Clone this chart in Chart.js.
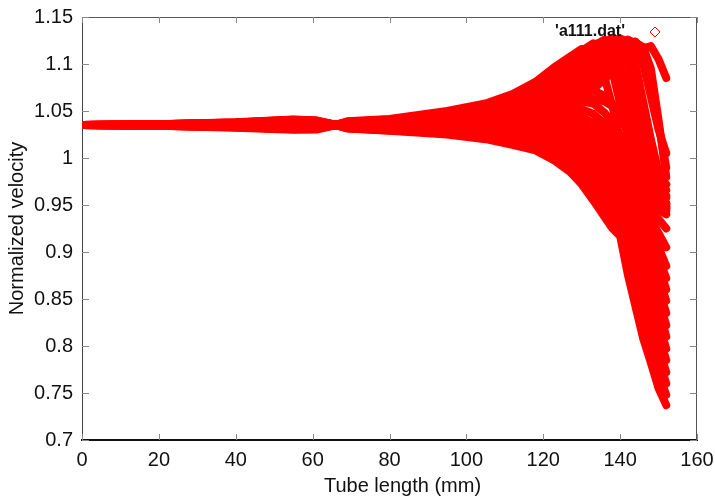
<!DOCTYPE html>
<html>
<head>
<meta charset="utf-8">
<script src="https://cdn.jsdelivr.net/npm/chart.js@4.4.0/dist/chart.umd.min.js"></script>
<style>
  html, body { margin: 0; padding: 0; background: #fff; }
  #wrap { width: 715px; height: 498px; }
</style>
</head>
<body>
<div id="wrap"><canvas id="plot"></canvas></div>
<script>
const xKnots = [0, 20, 40, 55, 61, 65, 69, 80, 95, 105, 112, 118, 123, 127, 130, 133, 136, 138, 140, 142, 144, 146, 148, 150, 152];

const xTicks = [0, 20, 40, 60, 80, 100, 120, 140, 160];
const yTicks = [0.7, 0.75, 0.8, 0.85, 0.9, 0.95, 1, 1.05, 1.1, 1.15];

// profiles with a hump near the tube end
const h1 = [1.0352, 1.0342, 1.0322, 1.0300, 1.0302, 1.0340, 1.0390, 1.0415, 1.050, 1.058, 1.068, 1.081, 1.097, 1.108, 1.116, 1.113, 1.085, 1.055, 1.020, 0.990, 0.967, 0.953, 0.947, 0.944, 0.943];
const h2 = [1.0352, 1.0343, 1.0326, 1.0306, 1.0308, 1.0343, 1.0385, 1.0410, 1.048, 1.056, 1.065, 1.077, 1.092, 1.104, 1.114, 1.122, 1.115, 1.092, 1.058, 1.022, 0.992, 0.967, 0.953, 0.947, 0.945];
const h2b = [1.0352, 1.0343, 1.0328, 1.0309, 1.0311, 1.0345, 1.0382, 1.0408, 1.047, 1.055, 1.063, 1.075, 1.089, 1.101, 1.111, 1.121, 1.123, 1.108, 1.080, 1.045, 1.010, 0.980, 0.960, 0.950, 0.946];
const h3 = [1.0352, 1.0344, 1.0330, 1.0312, 1.0314, 1.0346, 1.0380, 1.0405, 1.046, 1.053, 1.061, 1.072, 1.085, 1.097, 1.108, 1.119, 1.126, 1.121, 1.100, 1.065, 1.027, 0.992, 0.967, 0.953, 0.948];
const h4 = [1.0352, 1.0345, 1.0334, 1.0318, 1.0320, 1.0349, 1.0375, 1.0400, 1.044, 1.050, 1.057, 1.066, 1.078, 1.089, 1.100, 1.112, 1.123, 1.128, 1.124, 1.100, 1.062, 1.022, 0.987, 0.962, 0.951];
const h4b = [1.0352, 1.0346, 1.0336, 1.0321, 1.0323, 1.0350, 1.0372, 1.0398, 1.043, 1.048, 1.055, 1.063, 1.074, 1.085, 1.096, 1.108, 1.119, 1.125, 1.127, 1.114, 1.082, 1.042, 1.003, 0.972, 0.958];
const h5 = [1.0352, 1.0346, 1.0337, 1.0324, 1.0326, 1.0352, 1.0370, 1.0395, 1.043, 1.047, 1.053, 1.060, 1.070, 1.080, 1.091, 1.103, 1.115, 1.122, 1.127, 1.124, 1.100, 1.060, 1.020, 0.985, 0.966];
const h6 = [1.0352, 1.0347, 1.0340, 1.0330, 1.0332, 1.0355, 1.0365, 1.0390, 1.041, 1.044, 1.049, 1.055, 1.063, 1.071, 1.081, 1.093, 1.105, 1.113, 1.120, 1.126, 1.122, 1.100, 1.065, 1.030, 1.005];
const h6b = [1.0352, 1.0348, 1.0342, 1.0333, 1.0335, 1.0356, 1.0362, 1.0385, 1.0405, 1.043, 1.047, 1.052, 1.060, 1.067, 1.076, 1.088, 1.100, 1.108, 1.116, 1.122, 1.124, 1.112, 1.082, 1.036, 0.990];
const h7 = [1.0352, 1.0348, 1.0343, 1.0336, 1.0338, 1.0358, 1.0360, 1.0380, 1.040, 1.042, 1.046, 1.050, 1.057, 1.064, 1.072, 1.083, 1.095, 1.103, 1.111, 1.118, 1.123, 1.118, 1.095, 1.040, 0.980];
const h8 = [1.0352, 1.0349, 1.0346, 1.0342, 1.0344, 1.0361, 1.0356, 1.0370, 1.039, 1.040, 1.043, 1.046, 1.051, 1.057, 1.064, 1.073, 1.084, 1.092, 1.100, 1.107, 1.113, 1.117, 1.119, 1.105, 1.085];

// profiles that drop off at the tube end
const l1 = [1.0352, 1.0360, 1.0380, 1.0410, 1.0400, 1.0364, 1.0315, 1.0290, 1.025, 1.020, 1.014, 1.008, 0.997, 0.985, 0.972, 0.955, 0.937, 0.925, 0.917, 0.876, 0.842, 0.808, 0.782, 0.755, 0.737];
const m1 = [1.0352, 1.0359, 1.0379, 1.0408, 1.0398, 1.0363, 1.0316, 1.0292, 1.026, 1.021, 1.016, 1.010, 1.000, 0.988, 0.976, 0.960, 0.942, 0.934, 0.926, 0.892, 0.858, 0.825, 0.795, 0.770, 0.748];
const l2 = [1.0352, 1.0359, 1.0377, 1.0405, 1.0395, 1.0362, 1.0318, 1.0295, 1.027, 1.023, 1.018, 1.012, 1.003, 0.992, 0.980, 0.964, 0.948, 0.943, 0.935, 0.905, 0.872, 0.840, 0.810, 0.785, 0.760];
const m2 = [1.0352, 1.0358, 1.0376, 1.0402, 1.0392, 1.0361, 1.0320, 1.0298, 1.028, 1.025, 1.020, 1.015, 1.006, 0.996, 0.984, 0.969, 0.953, 0.947, 0.939, 0.915, 0.886, 0.855, 0.825, 0.798, 0.772];
const l3 = [1.0352, 1.0358, 1.0374, 1.0400, 1.0390, 1.0360, 1.0321, 1.0300, 1.029, 1.026, 1.022, 1.017, 1.009, 0.999, 0.988, 0.973, 0.958, 0.950, 0.942, 0.925, 0.900, 0.870, 0.840, 0.812, 0.785];
const m3 = [1.0352, 1.0357, 1.0372, 1.0397, 1.0387, 1.0359, 1.0323, 1.0305, 1.030, 1.028, 1.024, 1.020, 1.012, 1.003, 0.992, 0.978, 0.963, 0.954, 0.946, 0.931, 0.909, 0.882, 0.854, 0.826, 0.797];
const l4 = [1.0352, 1.0357, 1.0371, 1.0395, 1.0385, 1.0358, 1.0325, 1.0310, 1.031, 1.029, 1.026, 1.022, 1.015, 1.006, 0.996, 0.982, 0.968, 0.958, 0.950, 0.937, 0.918, 0.895, 0.868, 0.840, 0.810];
const m4 = [1.0352, 1.0356, 1.0370, 1.0392, 1.0382, 1.0357, 1.0328, 1.0315, 1.032, 1.031, 1.028, 1.025, 1.018, 1.010, 1.000, 0.987, 0.973, 0.963, 0.954, 0.942, 0.925, 0.904, 0.879, 0.851, 0.822];
const l5 = [1.0352, 1.0356, 1.0368, 1.0390, 1.0380, 1.0356, 1.0330, 1.0320, 1.033, 1.032, 1.030, 1.027, 1.021, 1.013, 1.004, 0.991, 0.977, 0.967, 0.957, 0.946, 0.932, 0.913, 0.890, 0.862, 0.835];
const m5 = [1.0352, 1.0355, 1.0366, 1.0388, 1.0378, 1.0355, 1.0332, 1.0325, 1.034, 1.034, 1.032, 1.030, 1.024, 1.017, 1.008, 0.996, 0.982, 0.972, 0.962, 0.951, 0.938, 0.921, 0.900, 0.874, 0.848];
const l6 = [1.0352, 1.0355, 1.0365, 1.0385, 1.0375, 1.0354, 1.0335, 1.0330, 1.035, 1.035, 1.034, 1.032, 1.027, 1.020, 1.012, 1.000, 0.987, 0.977, 0.966, 0.955, 0.943, 0.928, 0.910, 0.885, 0.860];
const m6 = [1.0352, 1.0354, 1.0363, 1.0382, 1.0372, 1.0353, 1.0338, 1.0335, 1.036, 1.037, 1.036, 1.035, 1.030, 1.024, 1.016, 1.005, 0.992, 0.982, 0.971, 0.960, 0.948, 0.934, 0.918, 0.895, 0.872];
const l7 = [1.0352, 1.0354, 1.0362, 1.0380, 1.0370, 1.0352, 1.0340, 1.0340, 1.037, 1.038, 1.038, 1.037, 1.033, 1.027, 1.020, 1.009, 0.996, 0.986, 0.975, 0.964, 0.952, 0.940, 0.925, 0.905, 0.885];
const l8 = [1.0352, 1.0353, 1.0360, 1.0375, 1.0365, 1.0350, 1.0345, 1.0350, 1.039, 1.041, 1.042, 1.042, 1.039, 1.034, 1.028, 1.018, 1.005, 0.995, 0.984, 0.972, 0.960, 0.948, 0.935, 0.920, 0.905];
const l9 = [1.0352, 1.0352, 1.0357, 1.0370, 1.0360, 1.0348, 1.0350, 1.0360, 1.041, 1.044, 1.046, 1.047, 1.045, 1.041, 1.036, 1.027, 1.015, 1.005, 0.994, 0.981, 0.968, 0.955, 0.945, 0.935, 0.925];
const l10 = [1.0352, 1.0351, 1.0354, 1.0365, 1.0355, 1.0346, 1.0355, 1.0370, 1.043, 1.047, 1.050, 1.052, 1.051, 1.048, 1.044, 1.037, 1.025, 1.015, 1.003, 0.990, 0.976, 0.963, 0.952, 0.945, 0.940];
const l11 = [1.0352, 1.0350, 1.0351, 1.0360, 1.0350, 1.0344, 1.0360, 1.0380, 1.045, 1.050, 1.054, 1.057, 1.057, 1.055, 1.052, 1.047, 1.036, 1.026, 1.013, 0.999, 0.984, 0.970, 0.958, 0.950, 0.948];
const l12 = [1.0352, 1.0349, 1.0348, 1.0355, 1.0345, 1.0342, 1.0365, 1.0390, 1.047, 1.053, 1.058, 1.062, 1.063, 1.062, 1.060, 1.058, 1.048, 1.037, 1.024, 1.008, 0.992, 0.977, 0.963, 0.955, 0.952];
const l13 = [1.0352, 1.0348, 1.0346, 1.0350, 1.0342, 1.0341, 1.0368, 1.0395, 1.048, 1.055, 1.060, 1.064, 1.066, 1.066, 1.065, 1.063, 1.060, 1.055, 1.046, 1.035, 1.022, 1.008, 0.995, 0.982, 0.972];
const l14 = [1.0352, 1.0347, 1.0344, 1.0345, 1.0339, 1.0340, 1.0370, 1.0400, 1.049, 1.056, 1.062, 1.067, 1.070, 1.072, 1.073, 1.072, 1.066, 1.058, 1.045, 1.028, 1.008, 0.990, 0.975, 0.965, 0.960];

const curves = [l1, m1, l2, m2, l3, m3, l4, m4, l5, m5, l6, m6, l7, l8, l9, l10, l11, l12, l13, l14,
                h1, h2, h2b, h3, h4, h4b, h5, h6, h6b, h7, h8];
const seriesLabel = "'a111.dat'";
const xTitle = 'Tube length (mm)';

const RED = 'rgb(255, 0, 0)';
const FONT = 'Liberation Sans, Arial, sans-serif';

const datasets = curves.map(function (ys) {
  return {
    label: seriesLabel,
    data: ys.map(function (y, i) { return { x: xKnots[i], y: y }; }),
    borderColor: RED,
    backgroundColor: RED,
    borderWidth: 8,
    borderJoinStyle: 'round',
    borderCapStyle: 'round',
    pointRadius: 0,
    fill: false,
    tension: 0
  };
});

// gnuplot style: ticks on the inside of all four sides, key at top right
const frame = {
  id: 'frame',
  afterDraw(chart) {
    const c = chart.ctx;
    const a = chart.chartArea;
    const sx = chart.scales.x, sy = chart.scales.y;
    c.save();
    c.strokeStyle = '#555';
    c.lineWidth = 1;
    c.beginPath();
    c.moveTo(a.left, a.top + 0.5); c.lineTo(a.right, a.top + 0.5);
    c.moveTo(a.right - 0.5, a.top); c.lineTo(a.right - 0.5, a.bottom);
    c.stroke();
    c.strokeStyle = '#888';
    c.beginPath();
    xTicks.forEach(function (v) {
      const px = Math.round(sx.getPixelForValue(v)) + 0.5;
      c.moveTo(px, a.bottom); c.lineTo(px, a.bottom - 6);
      c.moveTo(px, a.top); c.lineTo(px, a.top + 6);
    });
    yTicks.forEach(function (v) {
      const py = Math.round(sy.getPixelForValue(v)) + 0.5;
      c.moveTo(a.left, py); c.lineTo(a.left + 7, py);
      c.moveTo(a.right, py); c.lineTo(a.right - 7, py);
    });
    c.stroke();

    // x axis title, a little right of centre like the original
    c.fillStyle = '#111';
    c.font = '20px ' + FONT;
    c.textAlign = 'center';
    c.textBaseline = 'middle';
    c.fillText(xTitle, (a.left + a.right) / 2 + 13, chart.height - 12);

    // key
    c.font = 'bold 16px ' + FONT;
    c.textAlign = 'right';
    c.fillText(seriesLabel, a.right - 72, a.top + 15);
    c.strokeStyle = RED;
    c.fillStyle = '#fff';
    c.lineWidth = 1;
    Chart.helpers.drawPoint(c, { pointStyle: 'rectRot', radius: 5, borderWidth: 1 }, a.right - 42, a.top + 15);
    c.restore();
  }
};

new Chart(document.getElementById('plot'), {
  type: 'line',
  data: { datasets: datasets },
  plugins: [frame],
  options: {
    responsive: true,
    maintainAspectRatio: false,
    animation: false,
    layout: { padding: { left: 0, top: 17, right: 18, bottom: 0 } },
    plugins: {
      legend: { display: false },
      tooltip: { enabled: false }
    },
    scales: {
      x: {
        type: 'linear',
        min: 0,
        max: 160,
        afterBuildTicks: function (s) { s.ticks = xTicks.map(function (v) { return { value: v }; }); },
        afterFit: function (s) { s.height = 58; s.paddingLeft = 0; s.paddingRight = 0; },
        grid: { display: false, drawTicks: false },
        border: { color: '#111', width: 2 },
        ticks: { color: '#111', padding: 8, maxRotation: 0, font: { family: FONT, size: 20 } }
      },
      y: {
        min: 0.7,
        max: 1.15,
        afterBuildTicks: function (s) { s.ticks = yTicks.map(function (v) { return { value: v }; }); },
        afterFit: function (s) { s.width = 82; s.paddingTop = 0; s.paddingBottom = 0; },
        grid: { display: false, drawTicks: false },
        border: { color: '#444', width: 1 },
        ticks: {
          color: '#111',
          padding: 9,
          font: { family: FONT, size: 20 },
          callback: function (v) { return String(+v.toFixed(2)); }
        },
        title: { display: true, text: 'Normalized velocity', color: '#111', padding: { top: 5, bottom: 0 }, font: { family: FONT, size: 20 } }
      }
    }
  }
});
</script>
</body>
</html>
